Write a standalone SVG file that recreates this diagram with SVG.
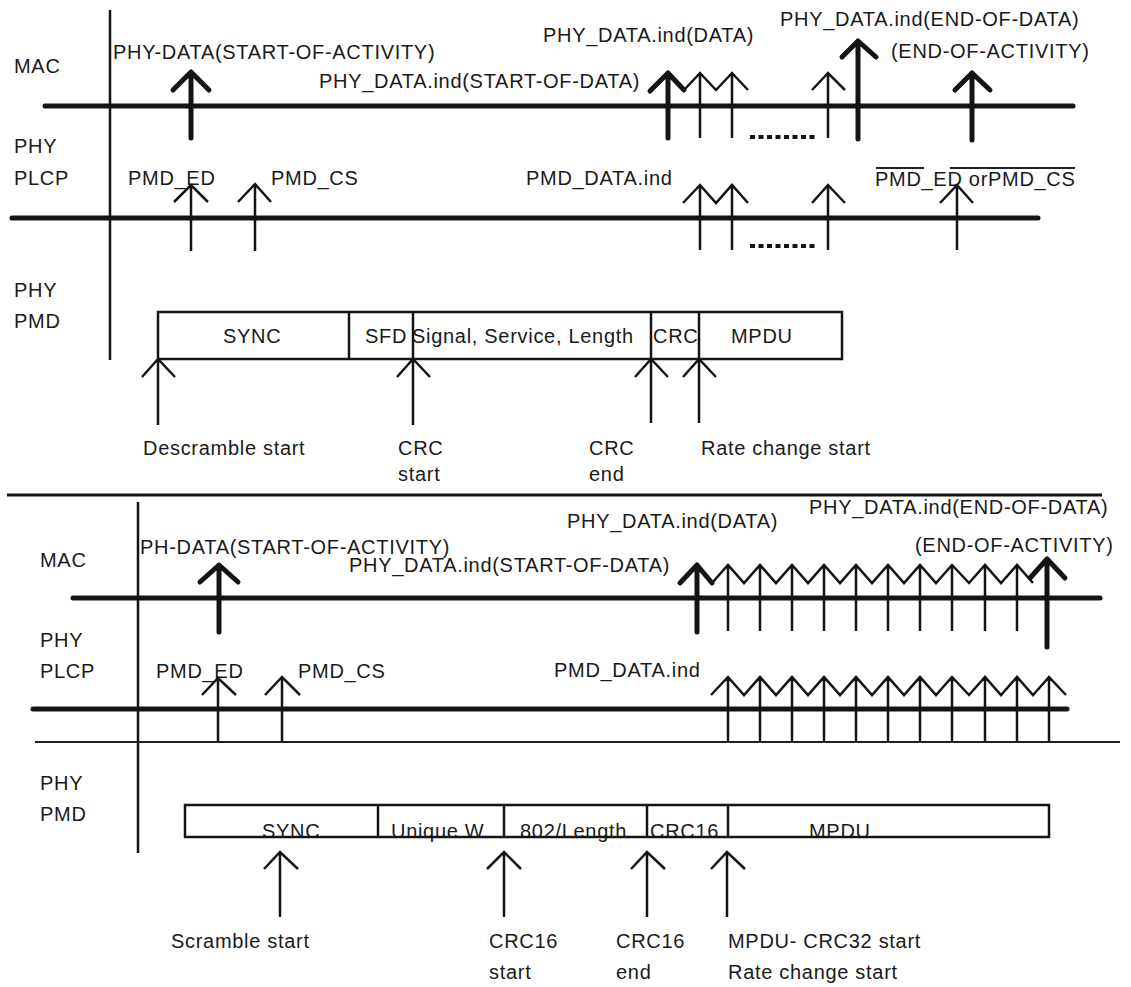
<svg xmlns="http://www.w3.org/2000/svg" width="1131" height="987" viewBox="0 0 1131 987">
<style>
text { font-family: "Liberation Sans", Arial, Helvetica, sans-serif; font-size: 20px; letter-spacing: 0.7px; fill: #1a1a1a; }
.thick { stroke: #141414; stroke-width: 5; fill: none; stroke-linecap: round; stroke-linejoin: round; }
.thin { stroke: #141414; stroke-width: 2.5; fill: none; }
.axis { stroke: #141414; stroke-width: 2.5; }
.bus { stroke: #141414; stroke-width: 5; stroke-linecap: round; }
.rule { stroke: #222; stroke-width: 2; }
.box { fill: none; stroke: #141414; stroke-width: 2.5; }
.div { stroke: #141414; stroke-width: 2.5; }
.dots { stroke: #141414; stroke-width: 4; stroke-dasharray: 5 3.5; }
</style>
<rect width="1131" height="987" fill="#ffffff"/>

<g id="top-diagram">
  <g id="top-layer-labels">
    <text x="14" y="73">MAC</text>
    <text x="14" y="153">PHY</text>
    <text x="14" y="185">PLCP</text>
    <text x="14" y="297">PHY</text>
    <text x="14" y="328">PMD</text>
  </g>
  <g id="top-axes">
    <line class="axis" x1="110" y1="10" x2="110" y2="360"/>
    <line class="bus" x1="45" y1="106" x2="1073" y2="106"/>
    <line class="bus" x1="12" y1="218" x2="1038" y2="218"/>
  </g>
  <g id="top-primitive-labels">
    <text x="113" y="59">PHY-DATA(START-OF-ACTIVITY)</text>
    <text x="319" y="88">PHY_DATA.ind(START-OF-DATA)</text>
    <text x="543" y="42">PHY_DATA.ind(DATA)</text>
    <text x="780" y="26">PHY_DATA.ind(END-OF-DATA)</text>
    <text x="891" y="58">(END-OF-ACTIVITY)</text>
    <text x="128" y="185">PMD_ED</text>
    <text x="271" y="185">PMD_CS</text>
    <text x="526" y="185">PMD_DATA.ind</text>
    <text x="875" y="186">PMD_ED orPMD_CS</text>
    <line class="rule" x1="876" y1="168" x2="924" y2="168"/>
    <line class="rule" x1="950" y1="168" x2="1075" y2="168"/>
  </g>
  <g id="top-frame">
    <rect class="box" x="158" y="312" width="684" height="47"/>
    <line class="div" x1="349" y1="312" x2="349" y2="359"/>
    <line class="div" x1="413" y1="312" x2="413" y2="359"/>
    <line class="div" x1="651" y1="312" x2="651" y2="359"/>
    <line class="div" x1="699" y1="312" x2="699" y2="359"/>
    <text x="223" y="343">SYNC</text>
    <text x="365" y="343">SFD</text>
    <text x="412" y="343">Signal, Service, Length</text>
    <text x="653" y="343">CRC</text>
    <text x="731" y="343">MPDU</text>
  </g>
  <g id="top-frame-labels">
    <text x="143" y="455">Descramble start</text>
    <text x="398" y="455">CRC</text>
    <text x="398" y="481">start</text>
    <text x="589" y="455">CRC</text>
    <text x="589" y="481">end</text>
    <text x="701" y="455">Rate change start</text>
  </g>
  <g id="top-connectors">
    <path class="thick" d="M173,90 L191,72 L209,90 M191,72 V138"/>
    <path class="thick" d="M650,91 L668,73 L684,90 M668,73 V138"/>
    <path class="thin" d="M684,90 L700,73 L716,90 L732,73 L748,90 M700,73 V138 M732,73 V138"/>
    <line class="dots" x1="750" y1="137" x2="818" y2="137"/>
    <path class="thin" d="M812,90 L828,73 L845,90 M828,73 V138"/>
    <path class="thick" d="M842,57 L858,41 L876,57 M858,41 V139"/>
    <path class="thick" d="M955,90 L972,73 L990,90 M972,73 V140"/>

    <path class="thin" d="M174,202 L191,185 L208,202 M191,185 V251"/>
    <path class="thin" d="M238,202 L255,184 L271,202 M255,184 V251"/>
    <path class="thin" d="M683,203 L700,185 L716,203 L732,185 L748,203 M700,185 V250 M732,185 V250"/>
    <line class="dots" x1="750" y1="246" x2="818" y2="246"/>
    <path class="thin" d="M812,203 L828,185 L845,203 M828,185 V250"/>
    <path class="thin" d="M940,203 L957,185 L973,203 M957,185 V250"/>

    <path class="thin" d="M142,377 L158,359 L175,377 M158,359 V425"/>
    <path class="thin" d="M397,377 L413,359 L430,377 M413,359 V425"/>
    <path class="thin" d="M635,377 L651,359 L668,377 M651,359 V423"/>
    <path class="thin" d="M683,377 L699,359 L716,377 M699,359 V423"/>
  </g>
</g>

<line id="separator" x1="7" y1="495" x2="1102" y2="495" stroke="#141414" stroke-width="3"/>

<g id="bottom-diagram">
  <g id="bottom-layer-labels">
    <text x="40" y="567">MAC</text>
    <text x="40" y="647">PHY</text>
    <text x="40" y="678">PLCP</text>
    <text x="40" y="790">PHY</text>
    <text x="40" y="821">PMD</text>
  </g>
  <g id="bottom-axes">
    <line class="axis" x1="138" y1="502" x2="138" y2="853"/>
    <line class="bus" x1="73" y1="598" x2="1100" y2="598"/>
    <line class="bus" x1="33" y1="709" x2="1067" y2="709"/>
    <line class="rule" x1="35" y1="742" x2="1120" y2="742"/>
  </g>
  <g id="bottom-primitive-labels">
    <text x="140" y="554">PH-DATA(START-OF-ACTIVITY)</text>
    <text x="349" y="572">PHY_DATA.ind(START-OF-DATA)</text>
    <text x="567" y="528">PHY_DATA.ind(DATA)</text>
    <text x="809" y="514">PHY_DATA.ind(END-OF-DATA)</text>
    <text x="915" y="552">(END-OF-ACTIVITY)</text>
    <text x="156" y="678">PMD_ED</text>
    <text x="298" y="678">PMD_CS</text>
    <text x="554" y="677">PMD_DATA.ind</text>
  </g>
  <g id="bottom-frame">
    <text x="262" y="838">SYNC</text>
    <text x="391" y="838">Unique W.</text>
    <text x="520" y="838">802/Length</text>
    <text x="650" y="838">CRC16</text>
    <text x="809" y="838">MPDU</text>
    <rect class="box" x="185" y="805" width="864" height="32"/>
    <line class="div" x1="378" y1="805" x2="378" y2="837"/>
    <line class="div" x1="504" y1="805" x2="504" y2="837"/>
    <line class="div" x1="647" y1="805" x2="647" y2="837"/>
    <line class="div" x1="728" y1="805" x2="728" y2="837"/>
  </g>
  <g id="bottom-frame-labels">
    <text x="171" y="948">Scramble start</text>
    <text x="489" y="948">CRC16</text>
    <text x="489" y="979">start</text>
    <text x="616" y="948">CRC16</text>
    <text x="616" y="979">end</text>
    <text x="728" y="948">MPDU- CRC32 start</text>
    <text x="728" y="979">Rate change start</text>
  </g>
  <g id="bottom-connectors">
    <path class="thick" d="M200,582 L219,565 L238,582 M219,565 V632"/>
    <path class="thick" d="M680,583 L697,565 L712,583 M697,565 V632"/>
    <path class="thin" d="M712,583 L728,565 L744,583 L760,565 L776,583 L792,565 L808,583 L824,565 L840,583 L856,565 L872,583 L888,565 L904,583 L920,565 L936,583 L952,565 L969,583 L985,565 L1001,583 L1017,565 L1033,583 M728,565 V631 M760,565 V631 M792,565 V631 M824,565 V631 M856,565 V631 M888,565 V631 M920,565 V631 M952,565 V631 M985,565 V631 M1017,565 V631"/>
    <path class="thick" d="M1030,578 L1047,559 L1065,578 M1047,559 V647"/>

    <path class="thin" d="M202,695 L218,678 L236,695 M218,678 V742"/>
    <path class="thin" d="M265,695 L282,677 L300,695 M282,677 V742"/>
    <path class="thin" d="M711,695 L728,677 L744,695 L760,677 L776,695 L792,677 L808,695 L824,677 L840,695 L856,677 L872,695 L888,677 L904,695 L920,677 L936,695 L952,677 L969,695 L985,677 L1001,695 L1017,677 L1033,695 L1049,677 L1066,695 M728,677 V742 M760,677 V742 M792,677 V742 M824,677 V742 M856,677 V742 M888,677 V742 M920,677 V742 M952,677 V742 M985,677 V742 M1017,677 V742 M1049,677 V742"/>

    <path class="thin" d="M264,869 L280,852 L298,869 M280,852 V917"/>
    <path class="thin" d="M487,869 L504,852 L521,869 M504,852 V917"/>
    <path class="thin" d="M631,869 L647,852 L665,869 M647,852 V917"/>
    <path class="thin" d="M711,869 L727,852 L745,869 M727,852 V917"/>
  </g>
</g>
</svg>
